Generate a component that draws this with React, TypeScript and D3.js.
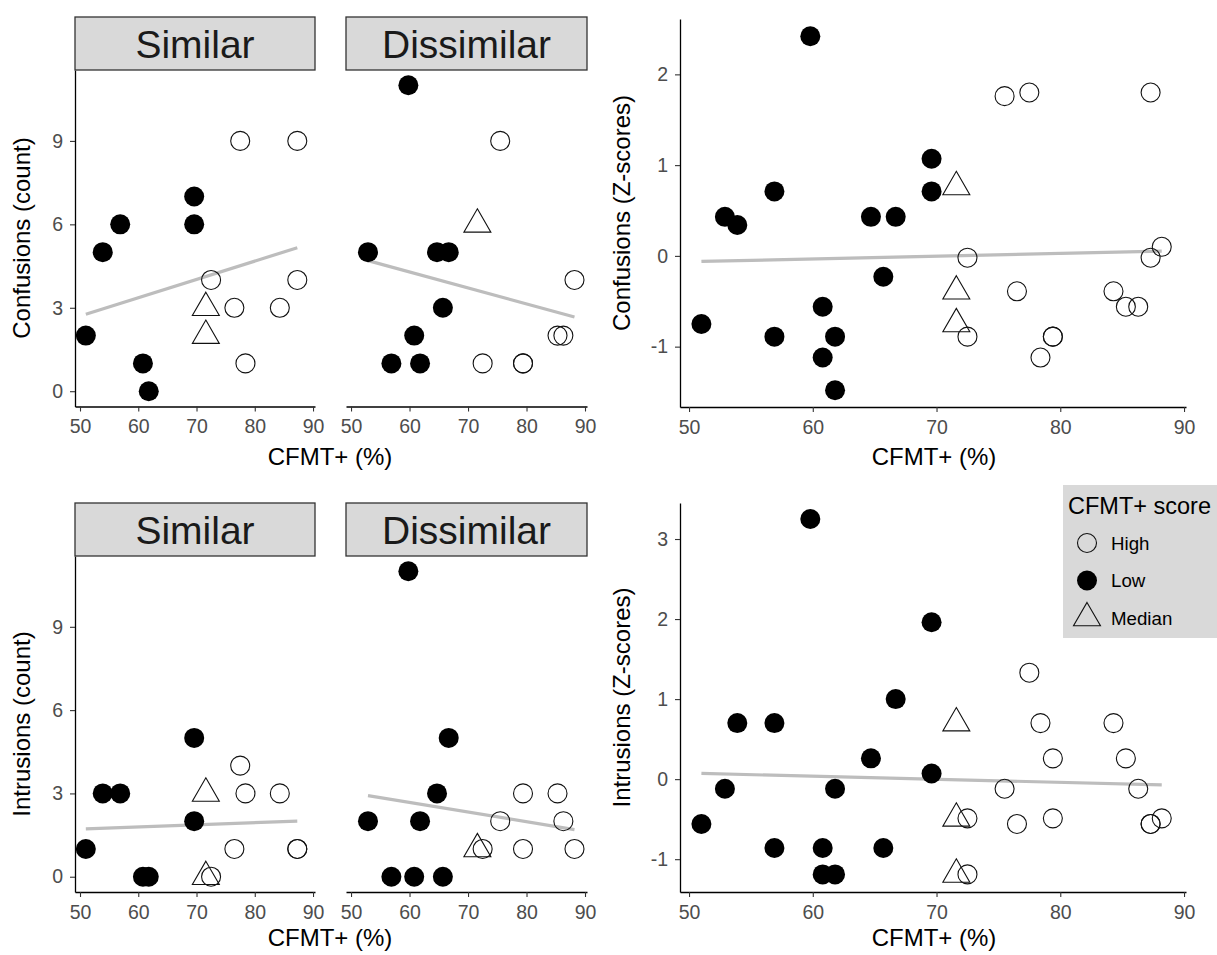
import React, { useEffect, useRef } from "react";
import * as d3 from "d3";

const W = 1217;
const H = 955;
const FONT = "'Liberation Sans', Arial, Helvetica, sans-serif";

// Similar condition, one entry per participant
const simCfmt = [51.0, 53.9, 56.9, 60.8, 61.8, 69.6, 69.6, 71.6, 71.6, 72.5, 76.5, 77.5, 78.4, 84.3, 87.3, 87.3];
const simGroup = ["Low", "Low", "Low", "Low", "Low", "Low", "Low", "Median", "Median", "High", "High", "High", "High", "High", "High", "High"];
const simConfusions = [2, 5, 6, 1, 0, 7, 6, 3, 2, 4, 3, 9, 1, 3, 9, 4];
const simIntrusions = [1, 3, 3, 0, 0, 5, 2, 3, 0, 0, 1, 4, 3, 3, 1, 1];
const simConfZ = [-0.75, 0.34, 0.71, -1.12, -1.48, 1.07, 0.71, -0.39, -0.75, -0.02, -0.39, 1.80, -1.12, -0.39, 1.80, -0.02];
const simIntrZ = [-0.56, 0.70, 0.70, -1.19, -1.19, 1.96, 0.07, 0.70, -1.19, -1.19, -0.56, 1.33, 0.70, 0.70, -0.56, -0.56];

// Dissimilar condition
const disCfmt = [52.9, 56.9, 59.8, 60.8, 61.8, 64.7, 65.7, 66.7, 71.6, 72.5, 75.5, 79.4, 79.4, 85.3, 86.3, 88.2];
const disGroup = ["Low", "Low", "Low", "Low", "Low", "Low", "Low", "Low", "Median", "High", "High", "High", "High", "High", "High", "High"];
const disConfusions = [5, 1, 11, 2, 1, 5, 3, 5, 6, 1, 9, 1, 1, 2, 2, 4];
const disIntrusions = [2, 0, 11, 0, 2, 3, 0, 5, 1, 1, 2, 3, 1, 3, 2, 1];
const disConfZ = [0.43, -0.89, 2.42, -0.56, -0.89, 0.43, -0.23, 0.43, 0.76, -0.89, 1.76, -0.89, -0.89, -0.56, -0.56, 0.10];
const disIntrZ = [-0.12, -0.86, 3.25, -0.86, -0.12, 0.26, -0.86, 1.00, -0.49, -0.49, -0.12, 0.26, -0.49, 0.26, -0.12, -0.49];

const xTicks = [50, 60, 70, 80, 90];
const countTicks = [0, 3, 6, 9];
const confZTicks = [-1, 0, 1, 2];
const intrZTicks = [-1, 0, 1, 2, 3];
const legendItems = ["High", "Low", "Median"];

// least squares line over the data range (like geom_smooth(method = "lm"))
function fitLine(xs: number[], ys: number[]) {
  const mx = d3.mean(xs) as number;
  const my = d3.mean(ys) as number;
  let sxy = 0;
  let sxx = 0;
  xs.forEach((x, i) => {
    sxy += (x - mx) * (ys[i] - my);
    sxx += (x - mx) * (x - mx);
  });
  const b = sxy / sxx;
  const a = my - b * mx;
  const [x0, x1] = d3.extent(xs) as [number, number];
  return [[x0, a + b * x0], [x1, a + b * x1]];
}

const triPath = d3.symbol(d3.symbolTriangle, 315)() as string;
const plainNum = (d: any) => String(d);

function drawPoint(g: any, cx: number, cy: number, grp: string) {
  if (grp === "Median") {
    g.append("path")
      .attr("d", triPath)
      .attr("transform", `translate(${cx},${cy})`)
      .attr("fill", "none")
      .attr("stroke", "#111")
      .attr("stroke-width", 1.1);
  } else if (grp === "Low") {
    g.append("circle").attr("cx", cx).attr("cy", cy).attr("r", 10).attr("fill", "#000");
  } else {
    g.append("circle")
      .attr("cx", cx).attr("cy", cy).attr("r", 9.5)
      .attr("fill", "none").attr("stroke", "#111").attr("stroke-width", 1.1);
  }
}

function styleAxis(a: any) {
  a.attr("font-family", FONT).attr("font-size", 19.5);
  a.select(".domain").attr("stroke", "#000").attr("stroke-width", 1.3);
  a.selectAll(".tick line").attr("stroke", "#333").attr("stroke-width", 1.1);
  a.selectAll(".tick text").attr("fill", "#4d4d4d");
}

function panel(svg: any, opt: any) {
  const { x, y, xs, ys, groups, yTicks, showY } = opt;
  const g = svg.append("g");
  const line = fitLine(xs, ys);
  g.append("path")
    .attr("d", d3.line()(line.map((p) => [x(p[0]), y(p[1])]) as any))
    .attr("stroke", "#bdbdbd")
    .attr("stroke-width", 3.2)
    .attr("fill", "none");
  xs.forEach((v: number, i: number) => drawPoint(g, x(v), y(ys[i]), groups[i]));

  const yb = y.range()[0];
  const xa = svg.append("g").attr("transform", `translate(0,${yb})`)
    .call(d3.axisBottom(x).tickValues(xTicks).tickFormat(plainNum).tickSize(5).tickSizeOuter(0).tickPadding(8));
  styleAxis(xa);
  if (showY) {
    const xl = x.range()[0];
    const ya = svg.append("g").attr("transform", `translate(${xl},0)`)
      .call(d3.axisLeft(y).tickValues(yTicks).tickFormat(plainNum).tickSize(5).tickSizeOuter(0).tickPadding(7));
    styleAxis(ya);
  }
  if (opt.strip) {
    const [x0, x1] = x.range();
    const top = y.range()[1];
    svg.append("rect")
      .attr("x", x0).attr("y", top - 53).attr("width", x1 - x0).attr("height", 53)
      .attr("fill", "#d9d9d9").attr("stroke", "#333").attr("stroke-width", 1.3);
    svg.append("text")
      .attr("x", (x0 + x1) / 2).attr("y", top - 12.5)
      .attr("text-anchor", "middle").attr("font-family", FONT).attr("font-size", 39)
      .attr("fill", "#1a1a1a").text(opt.strip);
  }
}

function title(svg: any, txt: string, cx: number, cy: number, rotate: boolean) {
  svg.append("text")
    .attr("transform", `translate(${cx},${cy})${rotate ? " rotate(-90)" : ""}`)
    .attr("text-anchor", "middle")
    .attr("font-family", FONT)
    .attr("font-size", 24)
    .attr("fill", "#000")
    .text(txt);
}

export default function App() {
  const ref = useRef<SVGSVGElement>(null);

  useEffect(() => {
    const svg = d3.select(ref.current);
    svg.selectAll("*").remove();

    const countDomain = [-0.55, 11.55];
    const xSimTop = d3.scaleLinear().domain([49.14, 90.34]).range([75, 315]);
    const xDisTop = d3.scaleLinear().domain([49.14, 90.34]).range([346, 587]);
    const xZ = d3.scaleLinear().domain([49.27, 90.16]).range([680, 1186]);

    const yCountTop = d3.scaleLinear().domain(countDomain).range([406.5, 70]);
    const yCountBot = d3.scaleLinear().domain(countDomain).range([892, 556]);
    const yConfZ = d3.scaleLinear().domain([-1.665, 2.61]).range([407, 19]);
    const yIntrZ = d3.scaleLinear().domain([-1.41, 3.45]).range([892, 503]);

    // top row: confusions
    panel(svg, { x: xSimTop, y: yCountTop, xs: simCfmt, ys: simConfusions, groups: simGroup, yTicks: countTicks, showY: true, strip: "Similar" });
    panel(svg, { x: xDisTop, y: yCountTop, xs: disCfmt, ys: disConfusions, groups: disGroup, yTicks: countTicks, showY: false, strip: "Dissimilar" });
    panel(svg, { x: xZ, y: yConfZ, xs: simCfmt.concat(disCfmt), ys: simConfZ.concat(disConfZ), groups: simGroup.concat(disGroup), yTicks: confZTicks, showY: true });

    // bottom row: intrusions
    panel(svg, { x: xSimTop, y: yCountBot, xs: simCfmt, ys: simIntrusions, groups: simGroup, yTicks: countTicks, showY: true, strip: "Similar" });
    panel(svg, { x: xDisTop, y: yCountBot, xs: disCfmt, ys: disIntrusions, groups: disGroup, yTicks: countTicks, showY: false, strip: "Dissimilar" });
    panel(svg, { x: xZ, y: yIntrZ, xs: simCfmt.concat(disCfmt), ys: simIntrZ.concat(disIntrZ), groups: simGroup.concat(disGroup), yTicks: intrZTicks, showY: true });

    title(svg, "Confusions (count)", 30, 238, true);
    title(svg, "Intrusions (count)", 30, 724, true);
    title(svg, "Confusions (Z-scores)", 630, 213, true);
    title(svg, "Intrusions (Z-scores)", 630, 697.5, true);
    title(svg, "CFMT+ (%)", 330, 465, false);
    title(svg, "CFMT+ (%)", 934, 465, false);
    title(svg, "CFMT+ (%)", 330, 946, false);
    title(svg, "CFMT+ (%)", 934, 946, false);

    // legend
    const lg = svg.append("g");
    lg.append("rect").attr("x", 1063).attr("y", 485).attr("width", 200).attr("height", 153).attr("fill", "#d9d9d9");
    lg.append("text").attr("x", 1068).attr("y", 514).attr("font-family", FONT).attr("font-size", 23.5).attr("fill", "#000").text("CFMT+ score");
    legendItems.forEach((name, i) => {
      const cy = 543 + i * 37.5;
      drawPoint(lg, 1087, cy, name);
      lg.append("text").attr("x", 1111).attr("y", cy + 6.7)
        .attr("font-family", FONT).attr("font-size", 18.7).attr("fill", "#000").text(name);
    });
  }, []);

  return (
    <svg
      ref={ref}
      width={W}
      height={H}
      style={{ position: "absolute", left: 0, top: 0, background: "#fff" }}
    />
  );
}
